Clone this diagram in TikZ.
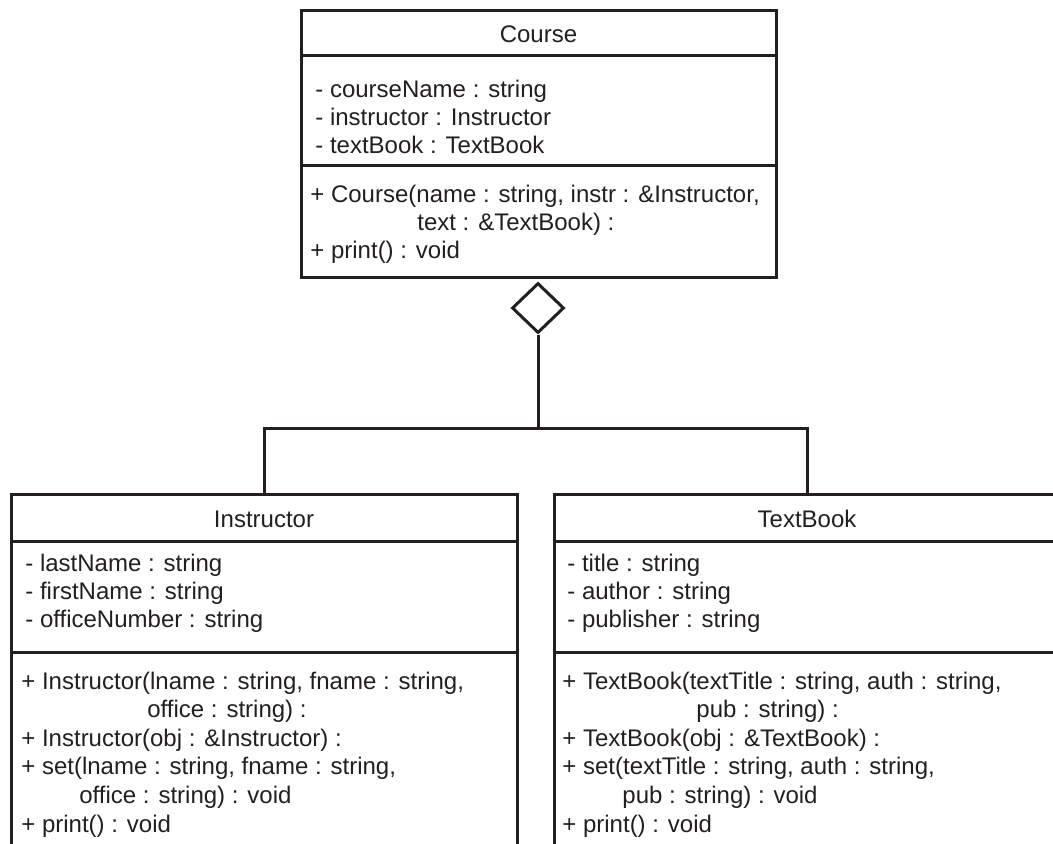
\documentclass[tikz,border=0pt]{standalone}
\usepackage{fontspec}
\setmainfont{Liberation Sans}
\usetikzlibrary{shapes.geometric}
\definecolor{ink}{HTML}{231F20}

\begin{document}
\begin{tikzpicture}[x=0.5pt, y=-0.5pt,
  umlline/.style={line width=1.5pt, draw=ink},
  classbox/.style={umlline, rectangle, inner sep=0pt},
  member/.style={anchor=base west, inner sep=0pt, text=ink, font=\fontsize{12}{14}\selectfont},
  classname/.style={member, anchor=base},
  aggdiamond/.style={umlline, diamond, fill=white, inner sep=0pt, minimum width=26pt, minimum height=25pt}]

  \useasboundingbox (0,0) rectangle (1053,843);
  \clip (0,0) rectangle (1053,843);

  % Course class (top)
  \node[classbox, minimum width=237.5pt, minimum height=133.5pt] (course) at (538.5,143.5) {};
  \draw[umlline] (course.west |- 0,55) -- (course.east |- 0,55);
  \draw[umlline] (course.west |- 0,165) -- (course.east |- 0,165);
  \node[classname] (coursename) at (538.5,42) {Course};
  \foreach \txt [count=\i] in {{- courseName : string}, {- instructor : Instructor}, {- textBook : TextBook}}
    \node[member] (courseattr\i) at (315,{97+28*(\i-1)}) {\txt};
  \foreach \dx/\txt [count=\i] in {310/{+ Course(name : string, instr : \&Instructor,},
      417/{text : \&TextBook) :}, 310/{+ print() : void}}
    \node[member] (courseop\i) at (\dx,{202+28*(\i-1)}) {\txt};

  % Instructor class (bottom left, runs off the page)
  \node[classbox, minimum width=253pt, minimum height=203pt] (instructor) at (264,697) {};
  \draw[umlline] (instructor.west |- 0,541) -- (instructor.east |- 0,541);
  \draw[umlline] (instructor.west |- 0,652) -- (instructor.east |- 0,652);
  \node[classname] (instructorname) at (264,527) {Instructor};
  \foreach \txt [count=\i] in {{- lastName : string}, {- firstName : string}, {- officeNumber : string}}
    \node[member] (instrattr\i) at (25,{571+28*(\i-1)}) {\txt};
  \foreach \dx/\txt [count=\i] in {21/{+ Instructor(lname : string, fname : string,},
      147/{office : string) :}, 21/{+ Instructor(obj : \&Instructor) :},
      21/{+ set(lname : string, fname : string,}, 79/{office : string) : void},
      21/{+ print() : void}}
    \node[member] (instrop\i) at (\dx,{689+28.6*(\i-1)}) {\txt};

  % TextBook class (bottom right, runs off the page)
  \node[classbox, minimum width=253pt, minimum height=203pt] (textbook) at (807,697) {};
  \draw[umlline] (textbook.west |- 0,541) -- (textbook.east |- 0,541);
  \draw[umlline] (textbook.west |- 0,652) -- (textbook.east |- 0,652);
  \node[classname] (textbookname) at (807,527) {TextBook};
  \foreach \txt [count=\i] in {{- title : string}, {- author : string}, {- publisher : string}}
    \node[member] (bookattr\i) at (567,{571+28*(\i-1)}) {\txt};
  \foreach \dx/\txt [count=\i] in {562/{+ TextBook(textTitle : string, auth : string,},
      696/{pub : string) :}, 562/{+ TextBook(obj : \&TextBook) :},
      562/{+ set(textTitle : string, auth : string,}, 622/{pub : string) : void},
      562/{+ print() : void}}
    \node[member] (bookop\i) at (\dx,{689+28.6*(\i-1)}) {\txt};

  % aggregation
  \node[aggdiamond] (agg) at (538,308) {};
  \coordinate (junc) at (agg.south |- 0,428);
  \draw[umlline] (agg.south) -- (junc) -| (instructor.north);
  \draw[umlline] (junc) -| (textbook.north);

\end{tikzpicture}
\end{document}
